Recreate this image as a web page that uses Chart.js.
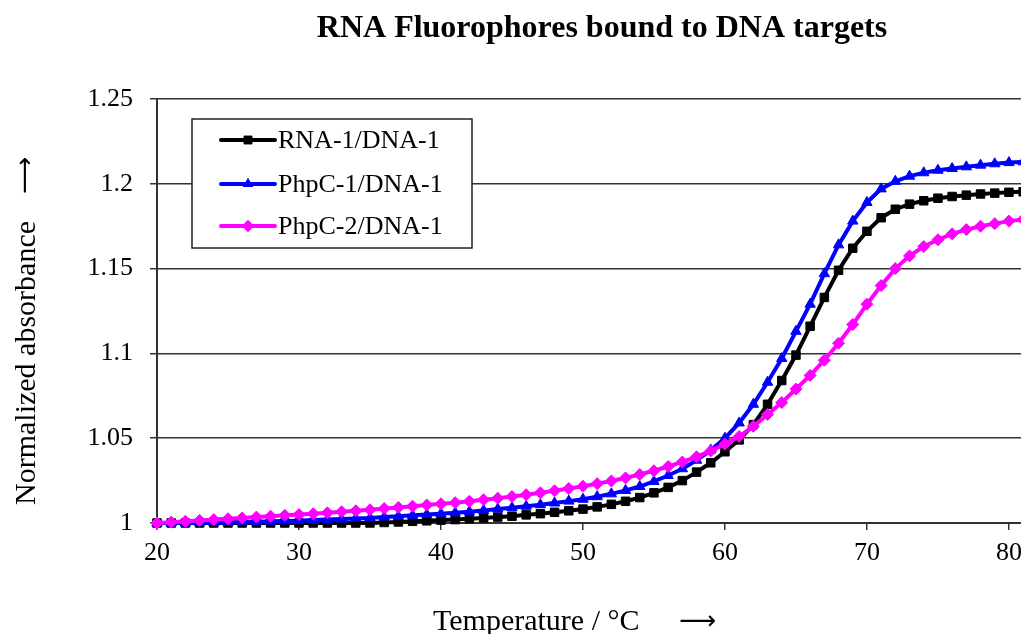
<!DOCTYPE html>
<html>
<head>
<meta charset="utf-8">
<title>RNA Fluorophores bound to DNA targets</title>
<script src="https://cdn.jsdelivr.net/npm/chart.js@4.4.1/dist/chart.umd.min.js"></script>
<style>
  body { margin: 0; background: #fff; }
  #wrap { width: 1021px; height: 634px; }
</style>
</head>
<body>
<div id="wrap"><canvas id="meltChart" width="1021" height="634"></canvas></div>
<script>
const temps = [20, 21, 22, 23, 24, 25, 26, 27, 28, 29, 30, 31, 32, 33, 34, 35, 36, 37, 38, 39,
  40, 41, 42, 43, 44, 45, 46, 47, 48, 49, 50, 51, 52, 53, 54, 55, 56, 57, 58, 59,
  60, 61, 62, 63, 64, 65, 66, 67, 68, 69, 70, 71, 72, 73, 74, 75, 76, 77, 78, 79, 80, 81];

const rna1 = [1.000, 1.000, 1.000, 1.000, 1.000, 1.000, 1.000, 1.000, 1.000, 1.000,
  1.000, 1.000, 1.000, 1.000, 1.000, 1.000, 1.0003, 1.0006, 1.001, 1.0013,
  1.0017, 1.002, 1.0025, 1.003, 1.0035, 1.004, 1.0048, 1.0055, 1.0063, 1.0072,
  1.0082, 1.0095, 1.011, 1.0128, 1.015, 1.0178, 1.021, 1.025, 1.030, 1.0355,
  1.042, 1.049, 1.058, 1.070, 1.084, 1.099, 1.116, 1.133, 1.149, 1.162,
  1.172, 1.180, 1.185, 1.188, 1.190, 1.1915, 1.1925, 1.1933, 1.194, 1.1945, 1.195, 1.1953];

const phpc1 = [1.000, 1.000, 1.000, 1.0002, 1.0003, 1.0005, 1.0006, 1.0008, 1.001, 1.0012,
  1.0014, 1.0017, 1.002, 1.0023, 1.0027, 1.003, 1.0035, 1.004, 1.0045, 1.005,
  1.0055, 1.006, 1.0067, 1.0074, 1.0082, 1.009, 1.0099, 1.0108, 1.0118, 1.0129,
  1.014, 1.0155, 1.0172, 1.0192, 1.0215, 1.0245, 1.028, 1.032, 1.037, 1.043,
  1.050, 1.059, 1.070, 1.083, 1.097, 1.113, 1.129, 1.147, 1.164, 1.178,
  1.189, 1.197, 1.2015, 1.2045, 1.2065, 1.208, 1.209, 1.210, 1.211, 1.2118, 1.2125, 1.213];

const phpc2 = [1.000, 1.0005, 1.001, 1.0015, 1.002, 1.0025, 1.003, 1.0035, 1.004, 1.0045,
  1.005, 1.0055, 1.006, 1.0066, 1.0072, 1.0078, 1.0085, 1.0092, 1.0099, 1.0106,
  1.0113, 1.012, 1.0128, 1.0137, 1.0146, 1.0156, 1.0167, 1.0178, 1.019, 1.0203,
  1.0217, 1.0232, 1.0248, 1.0266, 1.0286, 1.0308, 1.0333, 1.036, 1.039, 1.0425,
  1.0465, 1.051, 1.057, 1.064, 1.071, 1.079, 1.087, 1.096, 1.106, 1.117,
  1.129, 1.140, 1.150, 1.1575, 1.163, 1.167, 1.1705, 1.173, 1.175, 1.1765, 1.178, 1.179];

const seriesNames = ["RNA-1/DNA-1", "PhpC-1/DNA-1", "PhpC-2/DNA-1"];
const xTicks = [20, 30, 40, 50, 60, 70, 80];
const yTicks = [1, 1.05, 1.1, 1.15, 1.2, 1.25];

const serif = "'Liberation Serif', 'Times New Roman', serif";
const arrowFont = "'DejaVu Sans', sans-serif";

function toPoints(values) {
  return temps.map((t, i) => ({ x: t, y: values[i] }));
}

function makeSet(label, values, color, shape, radius, order) {
  return {
    label: label,
    data: toPoints(values),
    borderColor: color,
    backgroundColor: color,
    pointBackgroundColor: color,
    pointBorderColor: color,
    pointBorderWidth: 1,
    pointStyle: shape,
    pointRadius: radius,
    pointHoverRadius: radius,
    borderWidth: 4,
    tension: 0,
    order: order,
    clip: { left: 10, top: 10, right: 0, bottom: 10 },
  };
}

// long thin arrow, sized so its ink is about `len` px
function drawArrow(ctx, x, y, len) {
  ctx.font = "20px " + arrowFont;
  const m = ctx.measureText("⟶");
  const ink = (m.actualBoundingBoxLeft + m.actualBoundingBoxRight) || 30;
  const size = 20 * len / ink;
  ctx.font = size + "px " + arrowFont;
  const m2 = ctx.measureText("⟶");
  const mid = (m2.actualBoundingBoxAscent - m2.actualBoundingBoxDescent) / 2;
  ctx.textAlign = "left";
  ctx.textBaseline = "alphabetic";
  ctx.fillText("⟶", x + m2.actualBoundingBoxLeft, y + mid);
}

// title, axis titles and the boxed legend are drawn by hand
const chartDecor = {
  id: "chartDecor",
  afterDraw(chart) {
    const ctx = chart.ctx;
    ctx.save();
    ctx.fillStyle = "#000";
    ctx.font = "bold 32px " + serif;
    ctx.textAlign = "center";
    ctx.textBaseline = "middle";
    ctx.fillText("RNA Fluorophores bound to DNA targets", 602, 29);

    // x axis title
    ctx.font = "30px " + serif;
    ctx.textAlign = "left";
    ctx.textBaseline = "alphabetic";
    ctx.fillText("Temperature / °C", 433, 630);
    drawArrow(ctx, 680, 621, 35);

    // y axis title, rotated
    ctx.save();
    ctx.translate(35, 505);
    ctx.rotate(-Math.PI / 2);
    ctx.font = "30px " + serif;
    ctx.textAlign = "left";
    ctx.textBaseline = "alphabetic";
    ctx.fillText("Normalized absorbance", 0, 0);
    drawArrow(ctx, 312, -10, 35);
    ctx.restore();

    ctx.fillStyle = "#fff";
    ctx.fillRect(192, 119, 280, 129);
    ctx.strokeStyle = "#222";
    ctx.lineWidth = 1.5;
    ctx.strokeRect(192, 119, 280, 129);

    const rows = [140, 184, 226];
    // legend follows dataset index, not draw order
    chart.data.datasets.forEach((ds, i) => {
      const y = rows[i];
      ctx.strokeStyle = ds.borderColor;
      ctx.lineWidth = 4;
      ctx.lineCap = "round";
      ctx.beginPath();
      ctx.moveTo(221, y);
      ctx.lineTo(275, y);
      ctx.stroke();
      ctx.fillStyle = ds.pointBackgroundColor;
      Chart.helpers.drawPoint(ctx, { pointStyle: ds.pointStyle, radius: ds.pointRadius, borderWidth: 0 }, 248, y);
      ctx.fill();
      ctx.fillStyle = "#000";
      ctx.font = "26px " + serif;
      ctx.textAlign = "left";
      ctx.textBaseline = "middle";
      ctx.fillText(ds.label, 278, y + 1);
    });
    ctx.restore();
  },
};

document.addEventListener("DOMContentLoaded", function () {
  const ctx = document.getElementById("meltChart").getContext("2d");

  new Chart(ctx, {
    type: "line",
    plugins: [chartDecor],
    data: {
      datasets: [
        makeSet(seriesNames[0], rna1, "#000000", "rect", 6, 2),
        makeSet(seriesNames[1], phpc1, "#0000FF", "triangle", 6, 1),
        makeSet(seriesNames[2], phpc2, "#FF00FF", "rectRot", 6, 0),
      ],
    },
    options: {
      responsive: false,
      animation: false,
      layout: {
        autoPadding: false, // plot runs right up to the canvas edge
        padding: { top: 99, right: 0, bottom: 0, left: 0 },
      },
      plugins: {
        legend: { display: false },
        title: { display: false },
        tooltip: { enabled: false },
      },
      scales: {
        x: {
          type: "linear",
          min: 20,
          max: 80.85,
          afterBuildTicks: (scale) => {
            scale.ticks = xTicks.map((v) => ({ value: v }));
          },
          afterFit: (scale) => {
            scale.height = 111;
            scale.paddingRight = 0;
          },
          ticks: {
            color: "#000",
            padding: 8,
            maxRotation: 0,
            font: { family: serif, size: 26 },
          },
          grid: {
            drawOnChartArea: false,
            drawTicks: true,
            tickLength: 7,
            color: "#333",
            lineWidth: 1.5,
          },
          border: { color: "#333", width: 2 },
        },
        y: {
          min: 1,
          max: 1.25,
          afterBuildTicks: (scale) => {
            scale.ticks = yTicks.map((v) => ({ value: v }));
          },
          afterFit: (scale) => {
            scale.width = 157;
          },
          ticks: {
            color: "#000",
            padding: 17,
            font: { family: serif, size: 26 },
            callback: (v) => String(+v.toFixed(2)),
          },
          grid: {
            drawTicks: true,
            tickLength: 7,
            color: "#333",
            lineWidth: 1.5,
          },
          border: { color: "#333", width: 2 },
        },
      },
    },
  });
});
</script>
</body>
</html>
